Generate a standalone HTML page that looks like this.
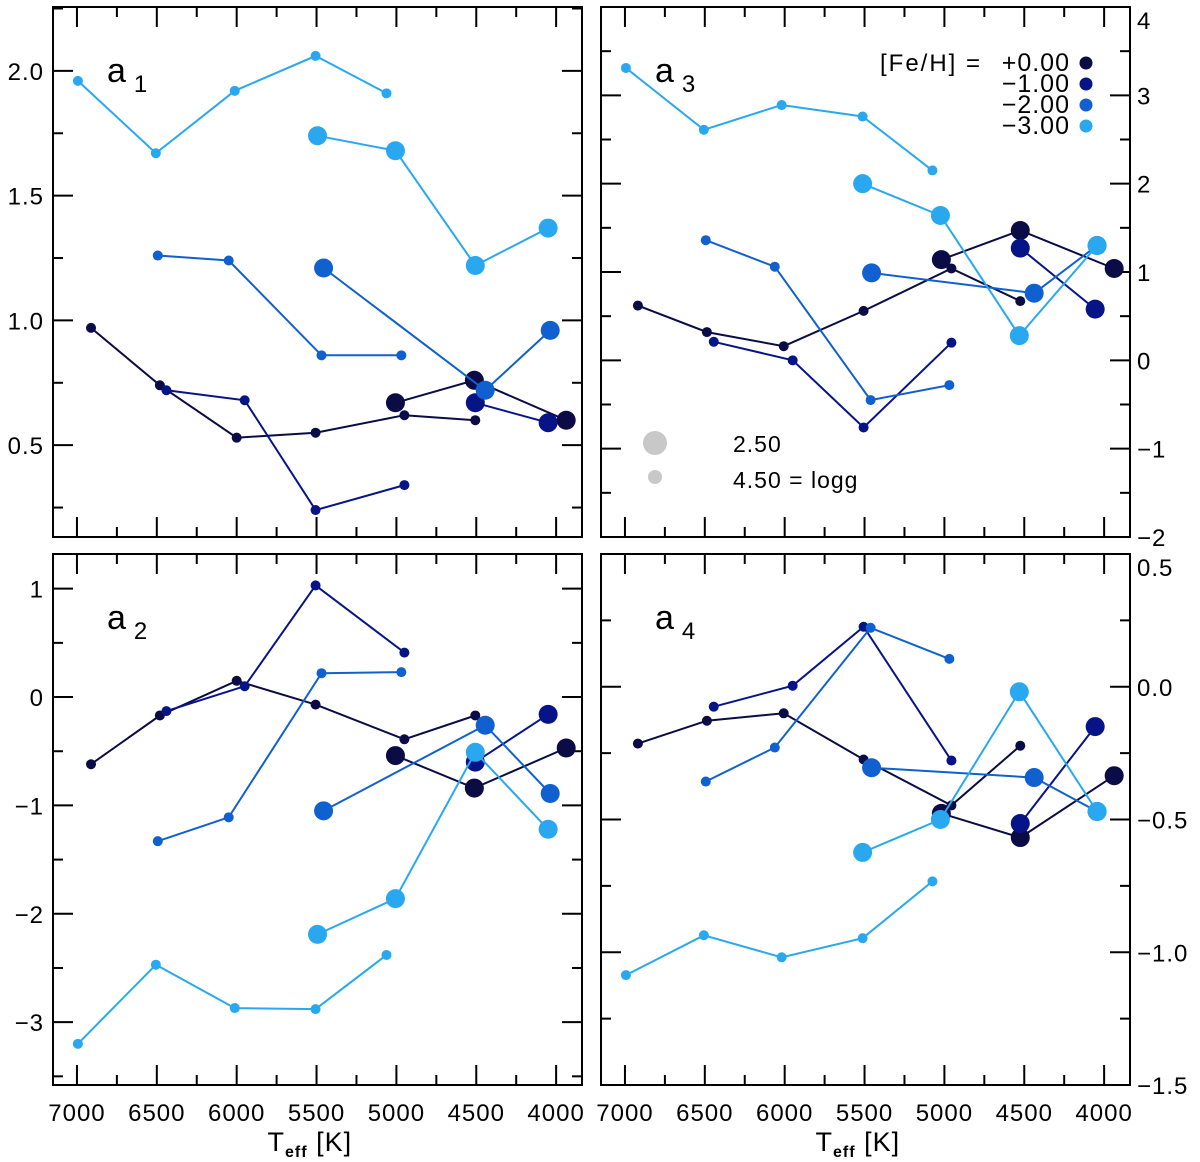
<!DOCTYPE html>
<html><head><meta charset="utf-8"><style>
html,body{margin:0;padding:0;background:#fff;}
svg{display:block;font-family:"Liberation Sans","DejaVu Sans",sans-serif;}
</style></head><body>
<svg id="chart" width="1200" height="1162" viewBox="0 0 1200 1162" xmlns="http://www.w3.org/2000/svg"></svg>
<script>
// ---- data ----
const metallicities = ["+0.00","-1.00","-2.00","-3.00"];
const colors = ["#0b0b45","#061488","#1060d0","#29a8f0"];
const a1_fe0_s_T=[6912,6481,6000,5506,4950,4506], a1_fe0_s_V=[0.97,0.74,0.53,0.55,0.62,0.60];
const a1_fe0_b_T=[5006,4512,3937], a1_fe0_b_V=[0.67,0.76,0.60];
const a1_fe1_s_T=[6440,5950,5506,4950], a1_fe1_s_V=[0.72,0.68,0.24,0.34];
const a1_fe1_b_T=[4506,4050], a1_fe1_b_V=[0.67,0.59];
const a1_fe2_s_T=[6494,6050,5469,4969], a1_fe2_s_V=[1.26,1.24,0.86,0.86];
const a1_fe2_b_T=[5456,4444,4037], a1_fe2_b_V=[1.21,0.72,0.96];
const a1_fe3_s_T=[6994,6506,6012,5506,5062], a1_fe3_s_V=[1.96,1.67,1.92,2.06,1.91];
const a1_fe3_b_T=[5494,5006,4506,4050], a1_fe3_b_V=[1.74,1.68,1.22,1.37];

const a2_fe0_s_T=a1_fe0_s_T, a2_fe0_s_V=[-0.62,-0.17,0.15,-0.07,-0.39,-0.17];
const a2_fe0_b_T=a1_fe0_b_T, a2_fe0_b_V=[-0.54,-0.84,-0.47];
const a2_fe1_s_T=a1_fe1_s_T, a2_fe1_s_V=[-0.13,0.10,1.03,0.41];
const a2_fe1_b_T=a1_fe1_b_T, a2_fe1_b_V=[-0.60,-0.16];
const a2_fe2_s_T=a1_fe2_s_T, a2_fe2_s_V=[-1.33,-1.11,0.22,0.23];
const a2_fe2_b_T=a1_fe2_b_T, a2_fe2_b_V=[-1.05,-0.26,-0.89];
const a2_fe3_s_T=a1_fe3_s_T, a2_fe3_s_V=[-3.20,-2.47,-2.87,-2.88,-2.38];
const a2_fe3_b_T=a1_fe3_b_T, a2_fe3_b_V=[-2.19,-1.86,-0.51,-1.22];

const a3_fe0_s_T=[6919,6487,6006,5506,4956,4525], a3_fe0_s_V=[0.62,0.32,0.16,0.56,1.04,0.67];
const a3_fe0_b_T=[5019,4525,3937], a3_fe0_b_V=[1.14,1.47,1.04];
const a3_fe1_s_T=[6444,5950,5506,4956], a3_fe1_s_V=[0.21,0.0,-0.76,0.20];
const a3_fe1_b_T=[4525,4056], a3_fe1_b_V=[1.27,0.58];
const a3_fe2_s_T=[6494,6062,5462,4969], a3_fe2_s_V=[1.36,1.06,-0.45,-0.28];
const a3_fe2_b_T=[5456,4438,4044], a3_fe2_b_V=[0.99,0.76,1.30];
const a3_fe3_s_T=[6994,6506,6019,5512,5075], a3_fe3_s_V=[3.31,2.61,2.89,2.76,2.15];
const a3_fe3_b_T=[5512,5025,4531,4044], a3_fe3_b_V=[2.00,1.64,0.28,1.30];

const a4_fe0_s_T=a3_fe0_s_T, a4_fe0_s_V=[-0.214,-0.128,-0.10,-0.274,-0.447,-0.222];
const a4_fe0_b_T=a3_fe0_b_T, a4_fe0_b_V=[-0.477,-0.568,-0.335];
const a4_fe1_s_T=a3_fe1_s_T, a4_fe1_s_V=[-0.075,0.004,0.226,-0.278];
const a4_fe1_b_T=a3_fe1_b_T, a4_fe1_b_V=[-0.515,-0.15];
const a4_fe2_s_T=a3_fe2_s_T, a4_fe2_s_V=[-0.357,-0.229,0.222,0.105];
const a4_fe2_b_T=a3_fe2_b_T, a4_fe2_b_V=[-0.305,-0.342,-0.47];
const a4_fe3_s_T=a3_fe3_s_T, a4_fe3_s_V=[-1.086,-0.936,-1.019,-0.947,-0.733];
const a4_fe3_b_T=a3_fe3_b_T, a4_fe3_b_V=[-0.624,-0.50,-0.019,-0.47];

const xTickLabels=["7000","6500","6000","5500","5000","4500","4000"];
const a1TickLabels=["0.5","1.0","1.5","2.0"];
const a2TickLabels=["-3","-2","-1","0","1"];
const a3TickLabels=["-2","-1","0","1","2","3","4"];
const a4TickLabels=["-1.5","-1.0","-0.5","0.0","0.5"];

// ---- drawing ----
const NS="http://www.w3.org/2000/svg";
const svg=document.getElementById('chart');
function mk(tag,attrs,parent){const e=document.createElementNS(NS,tag);for(const k in attrs)e.setAttribute(k,attrs[k]);(parent||svg).appendChild(e);return e;}
const MINUS="\u2212";
function fmt(s){return s.replace('-',MINUS);}

const panels=[
 {id:'a1',sub:'1',x0:53,x1:582,y0:7,y1:537,vmin:0.132,vmax:2.256,major:0.5,minor:0.25,labels:a1TickLabels,side:'left',xlab:false,
  series:[[a1_fe0_s_T,a1_fe0_s_V,a1_fe0_b_T,a1_fe0_b_V],[a1_fe1_s_T,a1_fe1_s_V,a1_fe1_b_T,a1_fe1_b_V],[a1_fe2_s_T,a1_fe2_s_V,a1_fe2_b_T,a1_fe2_b_V],[a1_fe3_s_T,a1_fe3_s_V,a1_fe3_b_T,a1_fe3_b_V]]},
 {id:'a3',sub:'3',x0:601,x1:1130,y0:7,y1:537,vmin:-2.0,vmax:4.0,major:1,minor:0.5,labels:a3TickLabels,side:'right',xlab:false,
  series:[[a3_fe0_s_T,a3_fe0_s_V,a3_fe0_b_T,a3_fe0_b_V],[a3_fe1_s_T,a3_fe1_s_V,a3_fe1_b_T,a3_fe1_b_V],[a3_fe2_s_T,a3_fe2_s_V,a3_fe2_b_T,a3_fe2_b_V],[a3_fe3_s_T,a3_fe3_s_V,a3_fe3_b_T,a3_fe3_b_V]]},
 {id:'a2',sub:'2',x0:53,x1:582,y0:554,y1:1085,vmin:-3.58,vmax:1.32,major:1,minor:0.5,labels:a2TickLabels,side:'left',xlab:true,
  series:[[a2_fe0_s_T,a2_fe0_s_V,a2_fe0_b_T,a2_fe0_b_V],[a2_fe1_s_T,a2_fe1_s_V,a2_fe1_b_T,a2_fe1_b_V],[a2_fe2_s_T,a2_fe2_s_V,a2_fe2_b_T,a2_fe2_b_V],[a2_fe3_s_T,a2_fe3_s_V,a2_fe3_b_T,a2_fe3_b_V]]},
 {id:'a4',sub:'4',x0:601,x1:1130,y0:554,y1:1085,vmin:-1.5,vmax:0.5,major:0.5,minor:0.25,labels:a4TickLabels,side:'right',xlab:true,
  series:[[a4_fe0_s_T,a4_fe0_s_V,a4_fe0_b_T,a4_fe0_b_V],[a4_fe1_s_T,a4_fe1_s_V,a4_fe1_b_T,a4_fe1_b_V],[a4_fe2_s_T,a4_fe2_s_V,a4_fe2_b_T,a4_fe2_b_V],[a4_fe3_s_T,a4_fe3_s_V,a4_fe3_b_T,a4_fe3_b_V]]}
];
const TMAX=7150, TMIN=3838;

panels.forEach(p=>{
  const g=mk('g',{});
  
  
  const xs=t=>p.x0+(TMAX-t)/(TMAX-TMIN)*(p.x1-p.x0);
  const ys=v=>p.y1-(v-p.vmin)/(p.vmax-p.vmin)*(p.y1-p.y0);
  const frame=mk('rect',{x:p.x0,y:p.y0,width:p.x1-p.x0,height:p.y1-p.y0,fill:'none',stroke:'#000','stroke-width':2},g);
  
  
  for(let t=4000;t<=7000;t+=250){
    const x=xs(t), L=(t%500===0)?20:10;
    mk('line',{x1:x,x2:x,y1:p.y1,y2:p.y1-L,stroke:'#000','stroke-width':2},g);
    mk('line',{x1:x,x2:x,y1:p.y0,y2:p.y0+L,stroke:'#000','stroke-width':2},g);
  }
  if(p.xlab){
    xTickLabels.forEach(s=>{
      const tx=mk('text',{x:xs(+s),y:1121,'text-anchor':'middle','font-size':24,'letter-spacing':1,fill:'#000'},g);
      tx.textContent=s;
      
      
    });
    const tt=mk('text',{x:(p.x0+p.x1)/2-50,y:1151,'font-size':27,'letter-spacing':1,fill:'#000'},g);
    
    
    tt.innerHTML='T<tspan font-size="16" font-weight="bold" dy="6">eff</tspan><tspan dy="-6"> [K]</tspan>';
  }
  const eps=1e-6;
  for(let v=Math.ceil(p.vmin/p.minor)*p.minor; v<=p.vmax+eps; v+=p.minor){
    const y=ys(v), isMaj=Math.abs(v/p.major-Math.round(v/p.major))<1e-4, L=isMaj?20:10;
    mk('line',{x1:p.x0,x2:p.x0+L,y1:y,y2:y,stroke:'#000','stroke-width':2},g);
    mk('line',{x1:p.x1,x2:p.x1-L,y1:y,y2:y,stroke:'#000','stroke-width':2},g);
  }
  p.labels.forEach(s=>{
    const v=+s, y=ys(v)+9;
    const tx=mk('text',{x:p.side==='left'?p.x0-9:p.x1+7,y:Math.max(y,p.y0+22),'text-anchor':p.side==='left'?'end':'start','font-size':24,'letter-spacing':1,fill:'#000'},g);
    tx.textContent=fmt(s);
    
    
  });
  const lab=mk('text',{x:p.x0+54,y:p.y0+75,'font-size':34,fill:'#000'},g);
  
  
  lab.innerHTML='a<tspan font-size="24" dx="8" dy="10">'+p.sub+'</tspan>';
  p.series.forEach((s,i)=>{
    const c=colors[i];
    [[s[0],s[1],5],[s[2],s[3],9.5]].forEach(([T,V,r])=>{
      const pts=T.map((t,k)=>xs(t).toFixed(1)+','+ys(V[k]).toFixed(1)).join(' ');
      const pl=mk('polyline',{points:pts,fill:'none',stroke:c,'stroke-width':2},g);
      
      
      T.forEach((t,k)=>{
        const ci=mk('circle',{cx:xs(t),cy:ys(V[k]),r:r,fill:c},g);
        
        
      });
    });
  });
});

const lg=mk('g',{});


const lt=mk('text',{x:880,y:71,'font-size':24,'letter-spacing':2,fill:'#000'},lg);
lt.textContent='[Fe/H]  =';


metallicities.forEach((m,i)=>{
  const y=62+i*21;
  const t=mk('text',{x:1070,y:y+9,'text-anchor':'end','font-size':25,'letter-spacing':1,fill:'#000'},lg);
  t.textContent=fmt(m);
  
  
  const c=mk('circle',{cx:1086,cy:y+1,r:6.5,fill:colors[i]},lg);
  
  
});
const gg=mk('g',{});


const c1=mk('circle',{cx:655,cy:443,r:12,fill:'#c8c8c8'},gg);


const c2=mk('circle',{cx:655,cy:477,r:7,fill:'#c8c8c8'},gg);


const t1=mk('text',{x:733,y:452,'font-size':23,'letter-spacing':1,fill:'#000'},gg);
t1.textContent='2.50';


const t2=mk('text',{x:733,y:488,'font-size':23,'letter-spacing':1,fill:'#000'},gg);
t2.textContent='4.50 = logg';


</script>
</body></html>
